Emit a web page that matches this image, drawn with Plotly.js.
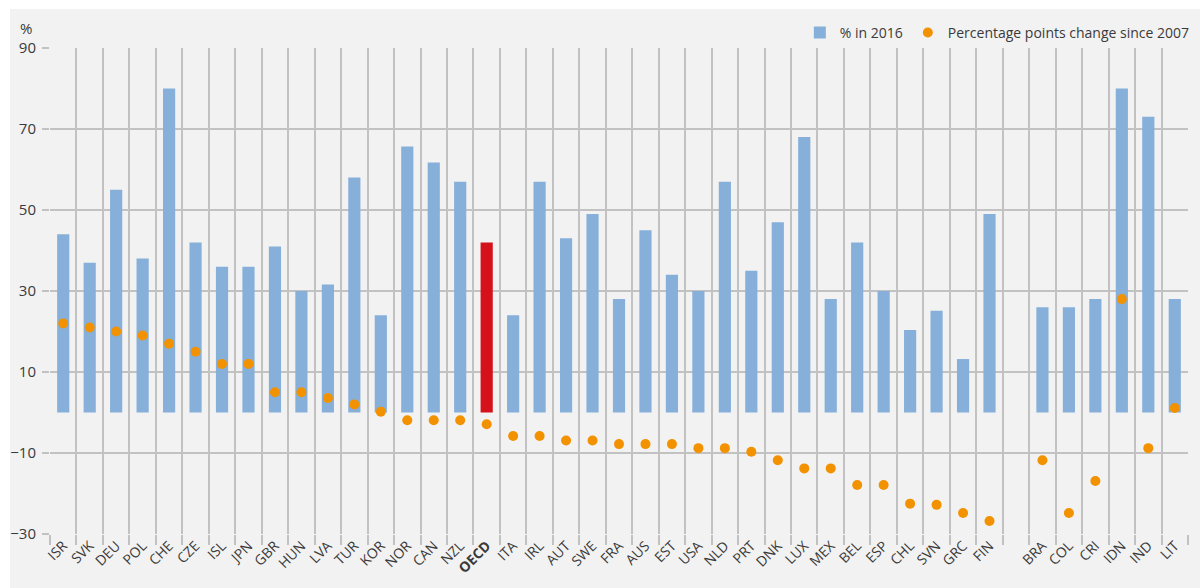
<!DOCTYPE html>
<html lang="en">
<head>
    <meta charset="UTF-8">
    <title>% in 2016 and percentage points change since 2007</title>
    <script src="https://cdn.plot.ly/plotly-3.0.1.min.js"></script>
    <style>
        body {
            margin: 0;
            background-color: #ffffff;
        }
        #chart {
            position: absolute;
            left: 10px;
            top: 9px;
            width: 1190px;
            height: 579px;
        }
    </style>
</head>
<body>
    <div id="chart"></div>

    <script>
        // Countries in display order; ' ' is the empty slot between FIN and BRA
        const countries = ['ISR', 'SVK', 'DEU', 'POL', 'CHE', 'CZE', 'ISL', 'JPN', 'GBR', 'HUN',
            'LVA', 'TUR', 'KOR', 'NOR', 'CAN', 'NZL', 'OECD', 'ITA', 'IRL', 'AUT', 'SWE',
            'FRA', 'AUS', 'EST', 'USA', 'NLD', 'PRT', 'DNK', 'LUX', 'MEX', 'BEL', 'ESP',
            'CHL', 'SVN', 'GRC', 'FIN', ' ', 'BRA', 'COL', 'CRI', 'IDN', 'IND', 'LIT'];

        // % in 2016
        const share2016 = [44, 37, 55, 38, 80, 42, 36, 36, 41, 30,
            31.6, 58, 24, 65.7, 61.7, 57, 42, 24, 57, 43, 49,
            28, 45, 34, 30, 57, 35, 47, 68, 28, 42, 30,
            20.4, 25.1, 13.2, 49, null, 26, 26, 28, 80, 73, 28];

        // Percentage points change since 2007
        const change2007 = [22, 21, 20, 19, 17, 15, 12, 12, 5, 5,
            3.6, 2, 0.2, -1.9, -1.9, -1.9, -2.9, -5.8, -5.8, -6.9, -6.9,
            -7.8, -7.8, -7.8, -8.8, -8.8, -9.7, -11.8, -13.8, -13.8, -17.9, -17.9,
            -22.5, -22.8, -24.8, -26.8, null, -11.8, -24.8, -16.9, 28, -8.8, 1.1];

        const yTicks = [-30, -10, 10, 30, 50, 70, 90];

        const labels = countries.map(c => c === 'OECD' ? '<b>OECD</b>' : c);
        const barColors = countries.map(c => c === 'OECD' ? '#d5111b' : '#86afd9');

        const textColor = '#3a3a3a';
        const gridColor = '#c2c2c2';

        const traces = [
            {
                type: 'bar',
                name: '% in 2016',
                x: labels,
                y: share2016,
                width: 0.46,
                marker: { color: barColors },
                hoverinfo: 'x+y'
            },
            {
                type: 'scatter',
                mode: 'markers',
                name: 'Percentage points change since 2007',
                x: labels,
                y: change2007,
                marker: { color: '#f39200', size: 10 },
                hoverinfo: 'x+y'
            }
        ];

        const layout = {
            width: 1190,
            height: 579,
            margin: { l: 40, r: 12, t: 39, b: 54, autoexpand: false },
            paper_bgcolor: '#f2f2f2',
            plot_bgcolor: '#f2f2f2',
            font: { family: 'Open Sans, sans-serif', size: 14, color: textColor },
            showlegend: true,
            legend: {
                orientation: 'h',
                x: 1.006,
                xanchor: 'right',
                y: 0.998,
                yanchor: 'bottom',
                bgcolor: 'rgba(0,0,0,0)',
                font: { size: 14, color: textColor },
                itemwidth: 30
            },
            xaxis: {
                type: 'category',
                categoryorder: 'array',
                categoryarray: labels,
                range: [-0.5, countries.length - 0.5],
                tickson: 'boundaries',
                ticks: 'outside',
                ticklen: 10,
                tickwidth: 1.5,
                tickcolor: gridColor,
                showgrid: true,
                gridcolor: gridColor,
                gridwidth: 1.5,
                tickangle: -45,
                tickfont: { size: 14, color: textColor },
                zeroline: false,
                showline: false,
                automargin: false,
                fixedrange: true
            },
            yaxis: {
                range: [-30, 90],
                tickvals: yTicks,
                ticks: 'outside',
                ticklen: 7,
                tickwidth: 1.5,
                tickcolor: gridColor,
                showgrid: true,
                gridcolor: gridColor,
                gridwidth: 1.5,
                zeroline: false,
                showline: false,
                tickfont: { size: 15, color: textColor },
                ticklabelstandoff: 3,
                automargin: false,
                fixedrange: true
            },
            annotations: [
                {
                    text: '%',
                    xref: 'paper',
                    yref: 'paper',
                    x: 0,
                    y: 1,
                    xshift: -32,
                    yshift: 8,
                    xanchor: 'left',
                    yanchor: 'bottom',
                    showarrow: false,
                    font: { size: 15, color: textColor }
                }
            ]
        };

        Plotly.newPlot('chart', traces, layout, { displayModeBar: false });
    </script>
</body>
</html>
